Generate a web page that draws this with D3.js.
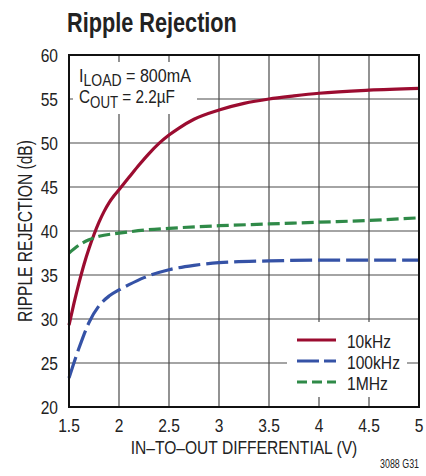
<!DOCTYPE html>
<html><head><meta charset="utf-8">
<script src="https://cdn.jsdelivr.net/npm/d3@7"></script>
<style>
html,body{margin:0;padding:0;background:#fff;}
text{font-family:"Liberation Sans",Arial,sans-serif;fill:#222;}
</style></head>
<body><svg id="c" width="426" height="476"></svg>
<script>
const xTicks = [1.5, 2, 2.5, 3, 3.5, 4, 4.5, 5];
const xTickLabels = ["1.5","2","2.5","3","3.5","4","4.5","5"];
const yTicks = [20, 25, 30, 35, 40, 45, 50, 55, 60];
const yTickLabels = ["20","25","30","35","40","45","50","55","60"];
const seriesNames = ["10kHz", "100kHz", "1MHz"];

const x10k = [1.5,1.55,1.6,1.65,1.7,1.75,1.8,1.85,1.9,1.95,2.0,2.1,2.2,2.3,2.4,2.5,2.6,2.75,3.0,3.25,3.5,3.75,4.0,4.5,5.0];
const y10k = [29.3,31.8,34.1,36.2,38.0,39.6,41.0,42.2,43.2,44.0,44.7,46.1,47.5,48.8,49.95,50.9,51.7,52.7,53.75,54.5,55.0,55.35,55.65,56.0,56.2];

const x100k = [1.5,1.6,1.7,1.8,1.9,2.0,2.1,2.25,2.5,2.75,3.0,3.5,4.0,4.5,5.0];
const y100k = [23.3,26.7,29.6,31.5,32.6,33.3,33.9,34.7,35.6,36.1,36.4,36.6,36.7,36.7,36.7];

const x1M = [1.5,1.6,1.7,1.8,2.0,2.25,2.5,3.0,3.5,4.0,4.5,5.0];
const y1M = [37.5,38.4,39.0,39.4,39.75,40.1,40.3,40.6,40.8,41.0,41.2,41.5];

const svg = d3.select("#c");
const L = 69, R = 419, T = 55, B = 407;
const x = d3.scaleLinear().domain([1.5, 5]).range([L, R]);
const y = d3.scaleLinear().domain([20, 60]).range([B, T]);
const SX = 0.82;

const styles = [
  {color:"#9b0c30", dash:null, ldash:null},
  {color:"#3552a6", dash:"22,6", ldash:"22,5"},
  {color:"#2f8a48", dash:"12,5", ldash:"10,5"}
];
const data = [
  x10k.map((v,i)=>[v,y10k[i]]),
  x100k.map((v,i)=>[v,y100k[i]]),
  x1M.map((v,i)=>[v,y1M[i]])
];

function label(px, py, str, size, anchor, opts={}){
  const g = svg.append("g");
  const t = g.append("text").attr("font-size",size).attr("text-anchor",anchor||"start");
  if (opts.bold) t.attr("font-weight","bold");
  if (typeof str === "function") str(t); else t.text(str);
  let s = SX;
  if (opts.width) s = opts.width / t.node().getComputedTextLength();
  g.attr("transform",`translate(${px},${py})${opts.rot?` rotate(${opts.rot})`:""} scale(${s},1)`);
  return g;
}

// title
label(67, 32, "Ripple Rejection", 27.5, "start", {bold:true, width:170});

// grid
const g = svg.append("g");
g.selectAll("line.vx").data(xTicks.slice(1,-1)).join("line")
  .attr("x1",d=>x(d)).attr("x2",d=>x(d)).attr("y1",T).attr("y2",B)
  .attr("stroke","#4a4a4a").attr("stroke-width",1.2);
g.selectAll("line.hy").data(yTicks.slice(1,-1)).join("line")
  .attr("y1",d=>y(d)).attr("y2",d=>y(d)).attr("x1",L).attr("x2",R)
  .attr("stroke","#4a4a4a").attr("stroke-width",1.2);

// white boxes over grid
svg.append("rect").attr("x",73).attr("y",62).attr("width",124).attr("height",52).attr("fill","#fff");
svg.append("rect").attr("x",287).attr("y",322).attr("width",120).attr("height",75).attr("fill","#fff");

// curves
const line = d3.line().x(d=>x(d[0])).y(d=>y(d[1])).curve(d3.curveMonotoneX);
data.forEach((d,i)=>{
  svg.append("path").datum(d).attr("d",line).attr("fill","none")
    .attr("stroke",styles[i].color).attr("stroke-width",3.2)
    .attr("stroke-dasharray",styles[i].dash);
});

// frame
svg.append("rect").attr("x",L).attr("y",T).attr("width",R-L).attr("height",B-T)
  .attr("fill","none").attr("stroke","#111").attr("stroke-width",2);

// tick labels
xTicks.forEach((v,i)=>label(x(v), 432, xTickLabels[i], 19, "middle"));
yTicks.forEach((v,i)=>label(58, y(v)+7, yTickLabels[i], 19, "end"));

// axis titles
label((L+R)/2, 454, "IN–TO–OUT DIFFERENTIAL (V)", 19, "middle", {width:227});
label(32, (T+B)/2, "RIPPLE REJECTION (dB)", 19.5, "middle", {width:182, rot:-90});

// annotation
label(79, 81.5, t=>{
  t.append("tspan").text("I");
  t.append("tspan").attr("dy",4.5).attr("font-size",16.5).text("LOAD");
  t.append("tspan").attr("dy",-4.5).text(" = 800mA");
}, 19, "start", {width:112});
label(79, 103, t=>{
  t.append("tspan").text("C");
  t.append("tspan").attr("dy",4.5).attr("font-size",16.5).text("OUT");
  t.append("tspan").attr("dy",-4.5).text(" = 2.2µF");
}, 19, "start", {width:96});

// legend
const ly = [340, 361, 382];
const lw = [44, 53, 41];
seriesNames.forEach((n,i)=>{
  svg.append("line").attr("x1",297).attr("x2",336).attr("y1",ly[i]).attr("y2",ly[i])
    .attr("stroke",styles[i].color).attr("stroke-width",3.2)
    .attr("stroke-dasharray", styles[i].ldash);
  label(347, ly[i]+8, n, 19, "start", {width:lw[i]});
});

label(419, 468, "3088 G31", 12, "end", {width:39});
</script></body></html>
